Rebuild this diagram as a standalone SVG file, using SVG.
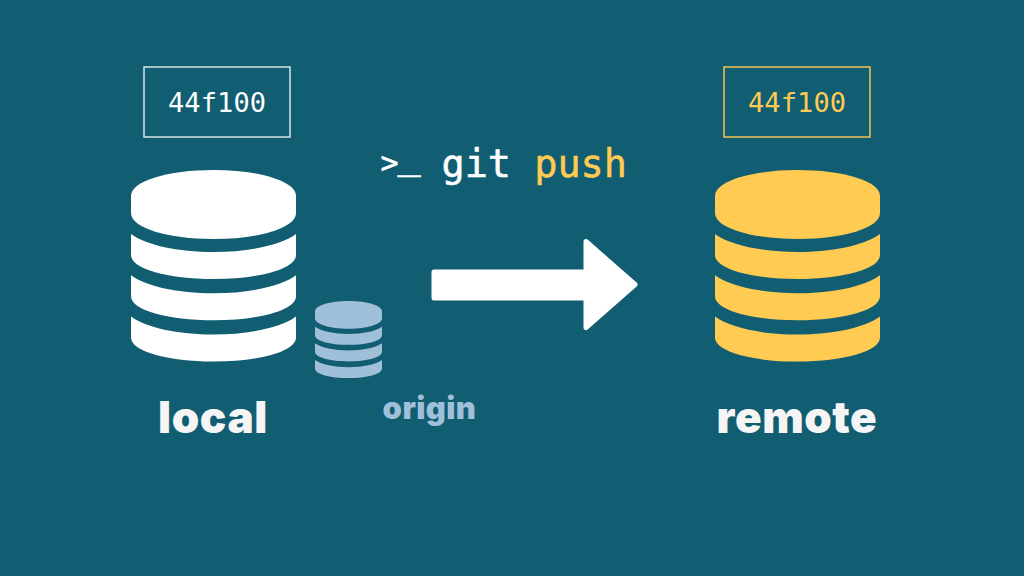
<svg xmlns="http://www.w3.org/2000/svg" width="1024" height="576" viewBox="0 0 1024 576">
<style>
.mono{font-family:"DejaVu Sans Mono","Liberation Mono",monospace}
.cmd{font-size:38.500px;stroke-width:0.5}
.lab{font-family:Inter,"Noto Sans",sans-serif;font-weight:900;text-anchor:middle}
.box{fill:none;stroke-width:1.4}
</style>
<defs>
<g id="db">
<path d="M131 196C131 181 168 170 213.5 170C259 170 296 181 296 196V213C296 228 259 239 213.5 239C168 239 131 228 131 213Z"/>
<path id="band" d="M131 234C146 245 178 252 213.5 252C249 252 281 245 296 234V255C296 269 259 279 213.5 279C168 279 131 269 131 255Z"/>
<use href="#band" y="41.3"/>
<use href="#band" y="82.6"/>
</g>
</defs>
<rect width="1024" height="576" fill="#115e72"/>
<g id="local">
<rect class="box" x="144" y="67" width="146" height="70" stroke="#e4eef0"/>
<text class="mono" x="217" y="111.500" font-size="27" text-anchor="middle" fill="#fff" textLength="98">44f100</text>
<use href="#db" fill="#fff"/>
<text class="lab" x="213" y="433" font-size="44" fill="#f5f5f5" letter-spacing="0.6">local</text>
</g>
<g id="origin">
<use href="#db" fill="#a0bfd9" transform="translate(315 301) scale(0.406 0.402) translate(-131 -170)"/>
<text class="lab" x="429.500" y="419" font-size="31" fill="#a0bfd9" letter-spacing="0.4">origin</text>
</g>
<g id="remote">
<rect class="box" x="724" y="67" width="146" height="70" stroke="#ffcb52"/>
<text class="mono" x="797" y="111.500" font-size="27" text-anchor="middle" fill="#ffcb52" textLength="98">44f100</text>
<use href="#db" fill="#ffcb52" x="584"/>
<text class="lab" x="797" y="433" font-size="44" fill="#f5f5f5" letter-spacing="0.6">remote</text>
</g>
<g id="command">
<text class="mono cmd" fill="#fff" stroke="#fff"><tspan x="380.500" y="173" font-size="30">&gt;</tspan></text>
<text class="mono cmd" fill="#fff" stroke="#fff"><tspan x="397.500" y="168">_</tspan></text>
<text class="mono cmd" x="441.500" y="177" fill="#fff" stroke="#fff">git <tspan fill="#ffcb52" stroke="#ffcb52">push</tspan></text>
</g>
<g id="connectors">
<path d="M434 272H586V241.500L635 284.500L586 327.500V298H434Z" fill="#fff" stroke="#fff" stroke-width="5" stroke-linejoin="round"/>
</g>
</svg>
